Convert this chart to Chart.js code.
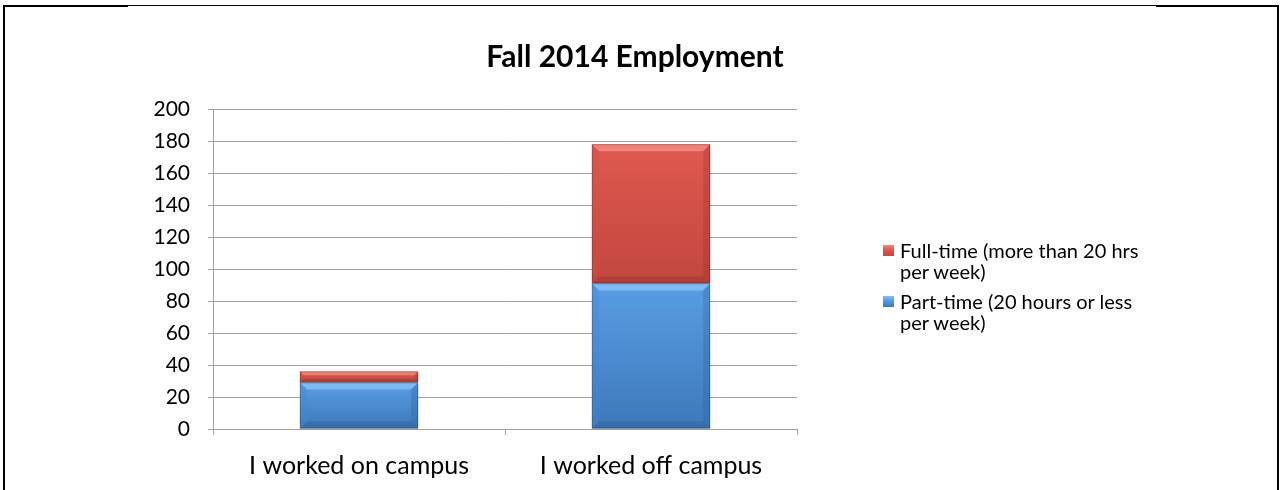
<!DOCTYPE html>
<html>
<head>
<meta charset="utf-8">
<script src="https://cdn.jsdelivr.net/npm/chart.js@4.4.1/dist/chart.umd.min.js"></script>
<style>
  html,body{margin:0;padding:0;background:#fff;}
  #wrap{position:relative;width:1281px;height:490px;overflow:hidden;font-family:Lato,"Noto Sans",sans-serif;color:#000;}
  #c{position:absolute;left:0;top:0;}
  .ln{position:absolute;background:#000;}
  #title{position:absolute;left:0;width:1270px;top:37px;text-align:center;font-weight:bold;font-size:30px;line-height:36px;}
  #legend{position:absolute;left:883px;top:240px;font-size:20px;line-height:21px;}
  .li{position:relative;padding-left:17px;margin-bottom:9px;}
  .sw{position:absolute;left:0;top:5px;width:11px;height:11px;}
</style>
</head>
<body>
<div id="wrap">
  <canvas id="c" width="1281" height="490"></canvas>
  <!-- frame lines -->
  <div class="ln" style="left:3px;top:5px;width:125px;height:2px"></div>
  <div class="ln" style="left:127px;top:5px;width:1030px;height:1px"></div>
  <div class="ln" style="left:1156px;top:5px;width:123px;height:2px"></div>
  <div class="ln" style="left:3px;top:5px;width:2px;height:485px"></div>
  <div class="ln" style="left:1277px;top:5px;width:2px;height:485px"></div>
  <div id="title">Fall 2014 Employment</div>
  <div id="legend"></div>
</div>
<script>
// ── data ──────────────────────────────────────────────
const categories=['I worked on campus','I worked off campus'];
const partTime=[29,91];
const fullTime=[7,87];
const yTicks={min:0,max:200,step:20};

const seriesStyle=[
  {label:'Part-time (20 hours or less per week)',data:partTime,top:'#589de4',bot:'#3d79ba',hi:'#86c0f4',lo:'#2f5f96',side:'#4a88cc'},
  {label:'Full-time (more than 20 hrs per week)',data:fullTime,top:'#e0594f',bot:'#c2463f',hi:'#f08a82',lo:'#98362f',side:'#cf5048'},
];

// vertical gradient over each bar segment, computed from the y scale
function segGrad(ctx,s){
  const chart=ctx.chart, y=chart.scales.y;
  if(!y||ctx.dataIndex==null) return s.top;
  let start=0;
  for(let d=0;d<ctx.datasetIndex;d++) start+=seriesStyle[d].data[ctx.dataIndex];
  const end=start+s.data[ctx.dataIndex];
  const y0=y.getPixelForValue(end), y1=y.getPixelForValue(start);
  if(!isFinite(y0)||!isFinite(y1)||y0===y1) return s.top;
  const g=chart.ctx.createLinearGradient(0,y0,0,y1);
  g.addColorStop(0,s.top);g.addColorStop(1,s.bot);
  return g;
}

// bevel edges drawn from the bar elements' own geometry
const bevel={
  id:'bevel',
  afterDatasetsDraw(chart){
    const c=chart.ctx;
    chart.data.datasets.forEach((ds,di)=>{
      const s=seriesStyle[di];
      chart.getDatasetMeta(di).data.forEach(el=>{
        const l=el.x-el.width/2, r=el.x+el.width/2;
        const t=Math.min(el.y,el.base), b=Math.max(el.y,el.base);
        const k=Math.min(7,(b-t)/3);
        c.save();
        const poly=(pts,col,a)=>{c.globalAlpha=a;c.beginPath();c.moveTo(pts[0][0],pts[0][1]);pts.slice(1).forEach(p=>c.lineTo(p[0],p[1]));c.closePath();c.fillStyle=col;c.fill();};
        poly([[l,t],[r,t],[r-k,t+k],[l+k,t+k]],s.hi,0.85);
        poly([[l,b],[r,b],[r-k,b-k],[l+k,b-k]],s.lo,0.45);
        poly([[l,t],[l+k,t+k],[l+k,b-k],[l,b]],s.side,0.35);
        poly([[r,t],[r-k,t+k],[r-k,b-k],[r,b]],s.lo,0.3);
        c.globalAlpha=1;
        c.strokeStyle='rgba(0,0,0,0.2)';c.lineWidth=1;
        c.strokeRect(l+0.5,t+0.5,r-l-1,b-t-1);
        c.restore();
      });
    });
  }
};

// legend (reverse order like the original)
document.getElementById('legend').innerHTML=seriesStyle.slice().reverse().map(s=>{
  const cut=s.label.lastIndexOf(' per week');
  return `<div class="li"><div class="sw" style="background:linear-gradient(${s.hi},${s.top} 40%,${s.bot})"></div>${s.label.slice(0,cut)}<br>${s.label.slice(cut+1)}</div>`;
}).join('');

const grid='#a0a0a0';
new Chart(document.getElementById('c'),{
  type:'bar',
  data:{
    labels:categories,
    datasets:seriesStyle.map(s=>({
      label:s.label,data:s.data,
      backgroundColor:ctx=>segGrad(ctx,s),
      borderWidth:0,categoryPercentage:1,barPercentage:0.405
    }))
  },
  options:{
    responsive:false,animation:false,
    layout:{padding:{left:0,right:484,top:109,bottom:0}},
    plugins:{legend:{display:false},tooltip:{enabled:false},title:{display:false}},
    scales:{
      x:{stacked:true,
        afterFit:s=>{s.height=61;},
        grid:{offset:true,drawOnChartArea:false,tickLength:6,color:grid,lineWidth:1},
        border:{color:grid,width:1},
        ticks:{color:'#000',font:{family:'Lato',size:25},padding:16}},
      y:{stacked:true,min:yTicks.min,max:yTicks.max,
        afterFit:s=>{s.width=213;},
        grid:{color:grid,lineWidth:1,tickLength:5},
        border:{color:grid,width:1},
        ticks:{stepSize:yTicks.step,color:'#000',font:{family:'Lato',size:21},padding:18}}
    }
  },
  plugins:[bevel]
});
</script>
</body>
</html>
